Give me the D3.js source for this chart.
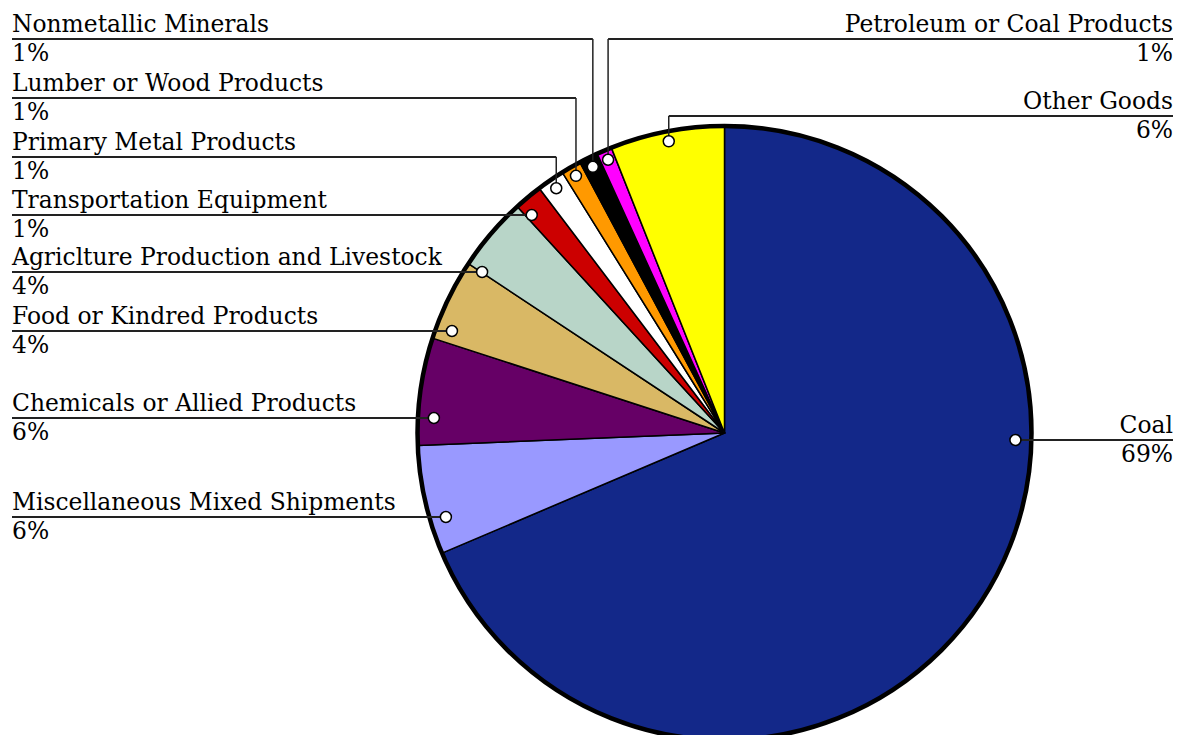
<!DOCTYPE html>
<html>
<head>
<meta charset="utf-8">
<script src="https://cdn.jsdelivr.net/npm/d3@7"></script>
<style>
  html, body { margin: 0; padding: 0; background: #fff; }
  svg { display: block; }
  text { font-family: "DejaVu Serif", "Liberation Serif", serif; font-size: 23.4px; fill: #000; }
</style>
</head>
<body>
<svg id="chart" width="1178" height="735"></svg>
<script>
// Commodity shares (percent of total tonnage), clockwise from 12 o'clock
const categories = [
  "Coal",
  "Miscellaneous Mixed Shipments",
  "Chemicals or Allied Products",
  "Food or Kindred Products",
  "Agriclture Production and Livestock",
  "Transportation Equipment",
  "Primary Metal Products",
  "Lumber or Wood Products",
  "Nonmetallic Minerals",
  "Petroleum or Coal Products",
  "Other Goods"
];
const shares = [68.6, 5.75, 5.65, 4.3, 3.9, 1.49, 1.45, 1.05, 1.0, 0.8, 6.01];
const sliceColors = [
  "#132889", "#9999ff", "#660066", "#d9b865", "#b8d5c8",
  "#cc0000", "#ffffff", "#ff9900", "#000000", "#ff00ff", "#ffff00"
];

// Label placement: which side, the y of the underline, and whether the
// leader drops vertically from the underline to the slice (elbow)
const labelLayout = {
  "Coal":                                  { side: "right", y: 440, elbow: false },
  "Miscellaneous Mixed Shipments":         { side: "left",  y: 517, elbow: false },
  "Chemicals or Allied Products":          { side: "left",  y: 418, elbow: false },
  "Food or Kindred Products":              { side: "left",  y: 331, elbow: false },
  "Agriclture Production and Livestock":   { side: "left",  y: 272, elbow: false },
  "Transportation Equipment":              { side: "left",  y: 215, elbow: false },
  "Primary Metal Products":                { side: "left",  y: 157, elbow: true },
  "Lumber or Wood Products":               { side: "left",  y: 98,  elbow: true },
  "Nonmetallic Minerals":                  { side: "left",  y: 39,  elbow: true },
  "Petroleum or Coal Products":            { side: "right", y: 39,  elbow: true },
  "Other Goods":                           { side: "right", y: 116, elbow: true }
};

const width = 1178, height = 735;
const cx = 724.5, cy = 433, R = 307;
const leftX = 12, rightX = 1173;
const dotRadiusDirect = R - 16, dotRadiusElbow = R - 10;
const nameOffset = -7, pctOffset = 22;

const svg = d3.select("#chart");
const total = d3.sum(shares);
const fmtPct = v => Math.round(v / total * 100) + "%";

const pie = d3.pie().sort(null).value(d => d).startAngle(0).endAngle(2 * Math.PI);
const arcs = pie(shares);
const arc = d3.arc().innerRadius(0).outerRadius(R);

const gPie = svg.append("g").attr("transform", `translate(${cx},${cy})`);

gPie.selectAll("path.slice")
  .data(arcs)
  .join("path")
  .attr("class", "slice")
  .attr("d", arc)
  .attr("fill", (d, i) => sliceColors[i])
  .attr("stroke", "#000")
  .attr("stroke-width", 1.5)
  .attr("stroke-linejoin", "round");

gPie.append("circle")
  .attr("r", R)
  .attr("fill", "none")
  .attr("stroke", "#000")
  .attr("stroke-width", 4.5);

// Leader lines, dots and text labels
const labels = arcs.map((d, i) => {
  const name = categories[i];
  const lay = labelLayout[name];
  const mid = (d.startAngle + d.endAngle) / 2;
  let dot;
  if (lay.elbow) {
    dot = [cx + dotRadiusElbow * Math.sin(mid), cy - dotRadiusElbow * Math.cos(mid)];
  } else {
    const dy = lay.y - cy;
    const dx = Math.sqrt(dotRadiusDirect * dotRadiusDirect - dy * dy);
    dot = [lay.side === "left" ? cx - dx : cx + dx, lay.y];
  }
  return { name, value: d.value, lay, dot };
});

const gLab = svg.append("g");

labels.forEach(l => {
  const x0 = l.lay.side === "left" ? leftX : rightX;
  // underline / horizontal leader
  gLab.append("line")
    .attr("x1", x0).attr("y1", l.lay.y)
    .attr("x2", l.dot[0]).attr("y2", l.lay.y)
    .attr("stroke", "#222").attr("stroke-width", 2);
  if (l.lay.elbow) {
    gLab.append("line")
      .attr("x1", l.dot[0]).attr("y1", l.lay.y)
      .attr("x2", l.dot[0]).attr("y2", l.dot[1])
      .attr("stroke", "#222").attr("stroke-width", 1.5);
  }
  const anchor = l.lay.side === "left" ? "start" : "end";
  gLab.append("text")
    .attr("x", x0).attr("y", l.lay.y + nameOffset)
    .attr("text-anchor", anchor)
    .text(l.name);
  gLab.append("text")
    .attr("x", x0).attr("y", l.lay.y + pctOffset)
    .attr("text-anchor", anchor)
    .text(fmtPct(l.value));
});

gLab.selectAll("circle.dot")
  .data(labels)
  .join("circle")
  .attr("class", "dot")
  .attr("cx", d => d.dot[0])
  .attr("cy", d => d.dot[1])
  .attr("r", 5.5)
  .attr("fill", "#fff")
  .attr("stroke", "#000")
  .attr("stroke-width", 1.5);
</script>
</body>
</html>
